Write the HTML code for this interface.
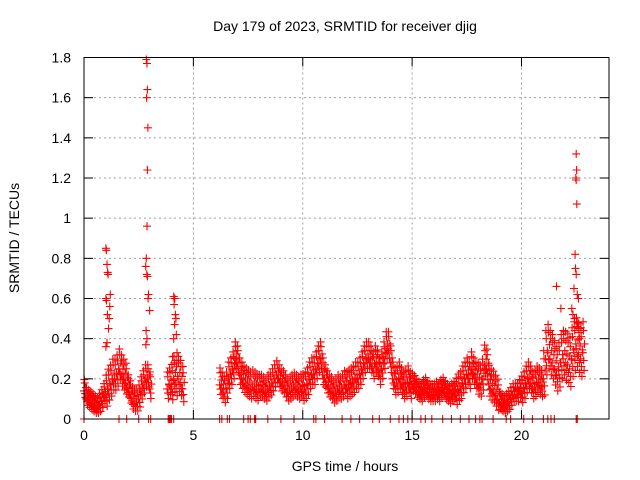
<!DOCTYPE html>
<html><head><meta charset="utf-8"><style>
html,body{margin:0;padding:0;background:#fff;}
svg{display:block;font-family:"Liberation Sans",sans-serif;}
</style></head><body>
<svg id="chart" width="640" height="480" viewBox="0 0 640 480">
<rect x="0" y="0" width="640" height="480" fill="#fff"/>
<g id="grid"></g>
<g id="marks"></g>
<g id="axes"></g>
<text x="345" y="31" font-size="14" text-anchor="middle">Day 179 of 2023, SRMTID for receiver djig</text>
<text x="345" y="471" font-size="14" text-anchor="middle">GPS time / hours</text>
<text transform="translate(19,238) rotate(-90)" font-size="14" text-anchor="middle">SRMTID / TECUs</text>
</svg>
<script>
const xTicks=[0,5,10,15,20];
const yTicks=[0,0.2,0.4,0.6,0.8,1,1.2,1.4,1.6,1.8];
const yTickLabels=["0","0.2","0.4","0.6","0.8","1","1.2","1.4","1.6","1.8"];
const segStart=[0.0,3.8,6.2];
const segA=[.14,.1,.09,.08,.07,.06,.05,.07,.09,.12,.12,.15,.17,.2,.2,.22,.25,.22,.2,.18,.15,.12,.09,.08,.08,.1,.14,.17,.2,.2,.15];
const segB=[.15,.17,.16,.2,.18,.2,.18,.15];
const segC=[.17,.15,.13,.15,.2,.22,.25,.3,
.28,.22,.2,.18,.17,.16,.15,.16,.15,.14,
.15,.15,.14,.13,.15,.16,.18,.2,.22,.2,
.18,.17,.15,.13,.14,.15,.16,.15,.14,.15,
.14,.15,.17,.2,.22,.22,.25,.28,.3,.22,
.2,.17,.15,.14,.12,.13,.15,.14,.15,.17,
.15,.16,.17,.18,.2,.2,.22,.25,.28,.3,
.3,.28,.25,.28,.26,.22,.25,.3,.35,.35,
.28,.2,.17,.18,.2,.17,.15,.16,.18,.15,
.17,.16,.14,.13,.12,.14,.15,.13,.12,.12,
.12,.13,.12,.14,.15,.13,.12,.11,.12,.13,
.12,.14,.15,.18,.2,.22,.2,.25,.22,.2,
.18,.17,.2,.27,.25,.17,.15,.14,.12,.1,
.08,.07,.06,.07,.08,.1,.12,.12,.12,.14,
.13,.15,.18,.2,.18,.15,.16,.18,.17,.16,
.2,.3,.33,.3,.28,.25,.22,.24,.28,.3,
.28,.27,.25,.3,.33,.35,.32,.3,.33];
const hourSpread=[.04,.07,.05,.06,.08,0,.06,.06,.05,.05,.06,.05,.06,.06,.06,.04,.04,.06,.07,.04,.06,.1,.11,.1];
const spikeT=[1.0,1.02,1.05,1.08,1.1,1.0,1.03,1.07,1.12,1.0,1.15,1.2,1.05,1.18,2.85,2.88,2.9,2.86,2.92,2.9,2.88,2.85,2.82,2.87,2.9,2.95,2.93,3.0,2.84,2.88,2.83,4.1,4.15,4.12,4.18,4.2,4.14,4.22,4.1,4.25,4.05,4.3,22.5,22.52,22.48,22.5,22.53,22.45,22.47,22.5,22.4,22.55,22.6,22.3,22.35,22.42,22.58,22.62,22.65,21.6,21.8];
const spikeV=[.85,.84,.77,.73,.72,.6,.59,.52,.45,.36,.5,.62,.38,.56,1.79,1.77,1.64,1.6,1.45,1.24,.96,.8,.76,.72,.71,.62,.6,.54,.44,.4,.37,.61,.6,.57,.52,.5,.47,.42,.4,.33,.31,.28,1.32,1.24,1.2,1.19,1.07,.82,.75,.72,.65,.62,.6,.55,.52,.5,.48,.45,.4,.66,.55];
const zeroT=[0.0,1.6,1.95,2.5,2.95,3.05,3.85,3.9,3.95,4.0,4.1,6.2,6.3,6.55,6.65,7.3,7.5,7.6,7.8,7.85,8.4,9.0,9.6,10.5,10.6,11.0,11.8,12.2,12.6,13.2,13.5,14.0,14.4,14.6,14.8,15.0,15.4,15.6,15.9,16.4,16.8,17.2,17.6,17.9,18.1,18.2,18.7,19.3,19.5,20.1,20.5,21.0,21.2,21.35,21.5,22.5,22.55];

const L=84,R=609,T=57.5,B=419;
const X=t=>L+(t/24)*(R-L);
const Y=v=>B-(v/1.8)*(B-T);
const NS="http://www.w3.org/2000/svg";
function mk(tag,attrs,parent){const e=document.createElementNS(NS,tag);for(const k in attrs)e.setAttribute(k,attrs[k]);parent.appendChild(e);return e;}
const grid=document.getElementById('grid'),axes=document.getElementById('axes'),marks=document.getElementById('marks');
xTicks.forEach(t=>{
 if(t>0){const g=mk('line',{x1:X(t),x2:X(t),y1:T,y2:B,stroke:'#a0a0a0','stroke-dasharray':'2,3'},grid);
 
 }
 mk('line',{x1:X(t),x2:X(t),y1:B,y2:B-9,stroke:'#000'},axes);
 mk('line',{x1:X(t),x2:X(t),y1:T,y2:T+9,stroke:'#000'},axes);
 const tx=mk('text',{x:X(t),y:B+21,'font-size':14,'text-anchor':'middle'},axes);tx.textContent=String(t);
 
 
});
yTicks.forEach((v,i)=>{
 if(v>0&&v<1.8){const g=mk('line',{x1:L,x2:R,y1:Y(v),y2:Y(v),stroke:'#a0a0a0','stroke-dasharray':'2,3'},grid);
 
 }
 mk('line',{x1:L,x2:L+9,y1:Y(v),y2:Y(v),stroke:'#000'},axes);
 mk('line',{x1:R,x2:R-9,y1:Y(v),y2:Y(v),stroke:'#000'},axes);
 const tx=mk('text',{x:L-13,y:Y(v)+5,'font-size':14,'text-anchor':'end'},axes);tx.textContent=yTickLabels[i];
 
 
});
const frame=mk('rect',{x:L,y:T,width:R-L,height:B-T,fill:'none',stroke:'#000'},axes);


let d='';
function plus(t,v){const x=X(t),y=Y(v);d+=`M${(x-4).toFixed(1)} ${y.toFixed(1)}h8M${x.toFixed(1)} ${(y-4).toFixed(1)}v8`;}
[segA,segB,segC].forEach((seg,si)=>{
 seg.forEach((v,i)=>{
  const t=segStart[si]+i*0.1;
  const s=hourSpread[Math.floor(t)];
  plus(t,v);plus(t+0.03,v+s);plus(t+0.06,Math.max(0.03,v-s*0.8));plus(t+0.08,v+s*0.4);
  plus(t+0.045,v-s*0.35);plus(t+0.015,v+s*1.4);
 });
});
spikeT.forEach((t,i)=>plus(t,spikeV[i]));
zeroT.forEach(t=>plus(t,0));
const p=mk('path',{d:d,stroke:'#ff0000','stroke-width':1.1,fill:'none'},marks);


</script>
</body></html>
